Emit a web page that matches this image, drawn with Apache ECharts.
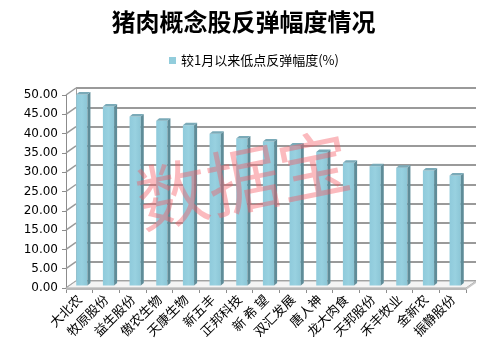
<!DOCTYPE html>
<html><head><meta charset="utf-8">
<script src="https://cdn.jsdelivr.net/npm/echarts@6/dist/echarts.min.js"></script>
<style>html,body{margin:0;padding:0;background:#fff}#c{width:487px;height:360px}</style>
</head><body><div id="c"></div>
<script>
var categories = ['大北农','牧原股份','益生股份','傲农生物','天康生物','新五丰','正邦科技','新 希 望','双汇发展','唐人神','龙大肉食','天邦股份','禾丰牧业','金新农','振静股份'];
var values = [49.5, 46.4, 43.8, 42.7, 41.5, 39.3, 38.1, 37.3, 36.3, 34.6, 31.8, 30.9, 30.5, 29.8, 28.5];
var yTicks = [0,5,10,15,20,25,30,35,40,45,50];
var seriesName = '较1月以来低点反弹幅度(%)';

var DX = 10, DY = -7;      // wall depth
var BX = 3, BY = -2.5;     // bar depth
var OX = 2.5, OY = -2.5;   // bar offset inside floor

var barData = values.map(function (v, i) { return [i, v]; });
var tickData = yTicks.map(function (v) { return [0, v]; });

var chart = echarts.init(document.getElementById('c'));
chart.setOption({
  animation: false,
  backgroundColor: '#fff',
  title: {text: '猪肉概念股反弹幅度情况', left: 'center', top: 5,
    textStyle: {fontFamily: 'Noto Sans CJK SC', fontSize: 24, fontWeight: 'bold', color: '#000'}},
  legend: {top: 49, left: 164, itemWidth: 7, itemHeight: 7, itemGap: 5,
    data: [{name: seriesName, icon: 'rect', itemStyle: {color: '#92CDDC'}}],
    textStyle: {fontFamily: 'Noto Sans CJK SC', fontSize: 13, color: '#000'}},
  grid: [
    {left: 66, right: 21, top: 95, bottom: 72},
    {left: 76, right: 11, top: 88, bottom: 79}
  ],
  xAxis: [
    {type: 'category', data: categories, gridIndex: 0,
     axisLine: {show: false},
     axisTick: {show: true, length: 5, lineStyle: {color: '#8c8c8c'}},
     axisLabel: {rotate: 45, margin: 9, fontFamily: 'Noto Sans CJK SC', fontSize: 13, color: '#000', interval: 0}},
    {type: 'category', data: categories, gridIndex: 1, show: false}
  ],
  yAxis: [
    {type: 'value', min: 0, max: 50, interval: 5, gridIndex: 0,
     axisLine: {show: true, lineStyle: {color: '#8c8c8c', width: 1}},
     axisTick: {show: true, length: 4, lineStyle: {color: '#8c8c8c'}},
     splitLine: {show: false},
     axisLabel: {margin: 8, fontFamily: 'DejaVu Sans', fontSize: 12, color: '#000',
       formatter: function (v) { return v.toFixed(2); }}},
    {type: 'value', min: 0, max: 50, interval: 5, gridIndex: 1,
     axisLine: {show: true, lineStyle: {color: '#a0a0a0', width: 1}},
     axisTick: {show: false}, axisLabel: {show: false},
     splitLine: {show: true, lineStyle: {color: '#9a9a9a', width: 2}}}
  ],
  series: [
    {type: 'custom', xAxisIndex: 0, yAxisIndex: 0, silent: true, z: 1,
     data: tickData,
     renderItem: function (params, api) {
       var cs = params.coordSys;
       var p = api.coord([0, api.value(1)]);
       return {type: 'line', shape: {x1: cs.x, y1: p[1], x2: cs.x + DX, y2: p[1] + DY},
         style: {stroke: '#9a9a9a', lineWidth: 1.5}};
     }},
    {type: 'custom', xAxisIndex: 0, yAxisIndex: 0, silent: true, z: 1,
     data: [[0, 0]],
     renderItem: function (params, api) {
       var cs = params.coordSys;
       var y0 = api.coord([0, 0])[1];
       var x0 = cs.x, x1 = cs.x + cs.width;
       return {type: 'group', children: [
         {type: 'polygon', shape: {points: [[x0, y0], [x1, y0], [x1 + DX, y0 + DY], [x0 + DX, y0 + DY]]},
          style: {fill: '#f4f4f4', stroke: '#a8a8a8', lineWidth: 1}},
         {type: 'polygon', shape: {points: [[x0, y0], [x1, y0], [x1, y0 + 2], [x0, y0 + 2]]},
          style: {fill: '#b8b8b8'}},
         {type: 'polygon', shape: {points: [[x1, y0], [x1 + DX, y0 + DY], [x1 + DX, y0 + DY + 2], [x1, y0 + 2]]},
          style: {fill: '#c8c8c8'}}
       ]};
     }},
    {type: 'custom', name: seriesName, xAxisIndex: 0, yAxisIndex: 0, z: 3,
     data: barData,
     itemStyle: {color: '#92CDDC'},
     renderItem: function (params, api) {
       var i = api.value(0);
       var base = api.coord([i, 0]);
       var top = api.coord([i, api.value(1)]);
       var w = api.size([1, 0])[0] * 0.42;
       var xl = base[0] - w / 2 + OX, xr = xl + w;
       var yt = top[1] + OY, yb = base[1] + OY;
       return {type: 'group', children: [
         {type: 'rect', shape: {x: xl, y: yt, width: w, height: yb - yt},
          style: {fill: new echarts.graphic.LinearGradient(0, 0, 1, 0, [
            {offset: 0, color: '#8fcadb'}, {offset: 0.5, color: '#98d1e0'}, {offset: 1, color: '#8cc6d6'}])}},
         {type: 'polygon', shape: {points: [[xr, yt], [xr + BX, yt + BY], [xr + BX, yb + BY], [xr, yb]]},
          style: {fill: '#5f8c98'}},
         {type: 'polygon', shape: {points: [[xl, yt], [xr, yt], [xr + BX, yt + BY], [xl + BX, yt + BY]]},
          style: {fill: '#7aaab8'}}
       ]};
     }}
  ],
  graphic: [
    {type: 'text', x: 243, y: 180, rotation: 0.2, z: 100, silent: true,
     style: {text: '数据宝', fontFamily: 'Noto Sans CJK SC', fontSize: 72, fontWeight: 'normal',
       fill: 'rgba(245,90,100,0.42)', align: 'center', verticalAlign: 'middle'}}
  ]
});
</script></body></html>
